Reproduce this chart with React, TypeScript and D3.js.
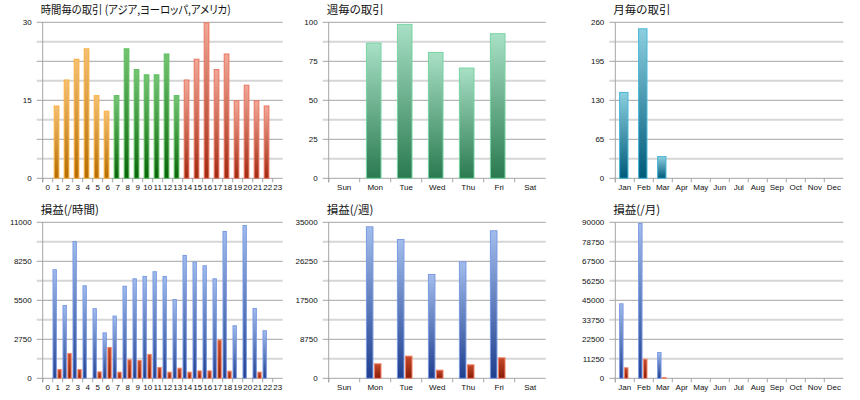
import React from "react";
import * as d3 from "d3";

// categories
const hours = ["0", "1", "2", "3", "4", "5", "6", "7", "8", "9", "10", "11", "12", "13", "14", "15", "16", "17", "18", "19", "20", "21", "22", "23"];
const hourRegion = ["asia", "asia", "asia", "asia", "asia", "asia", "asia", "europe", "europe", "europe", "europe", "europe", "europe", "europe", "america", "america", "america", "america", "america", "america", "america", "america", "america", "america"];
const weekDays = ["Sun", "Mon", "Tue", "Wed", "Thu", "Fri", "Sat"];
const months = ["Jan", "Feb", "Mar", "Apr", "May", "Jun", "Jul", "Aug", "Sep", "Oct", "Nov", "Dec"];

// trade counts
const hourlyTrades = [0, 14, 19, 23, 25, 16, 13, 16, 25, 21, 20, 20, 24, 16, 19, 23, 30, 21, 24, 15, 18, 15, 14, 0];
const weeklyTrades = [0, 87, 99, 81, 71, 93, 0];
const monthlyTrades = [144, 250, 37, 0, 0, 0, 0, 0, 0, 0, 0, 0];

// profit / loss
const hourlyProfit = [0, 7690, 5170, 9680, 6560, 4940, 3240, 4420, 6530, 7050, 7220, 7550, 7220, 5590, 8700, 8230, 7970, 7050, 10390, 3740, 10810, 4960, 3390, 0];
const hourlyLoss = [0, 660, 1790, 650, 0, 490, 2210, 470, 1340, 1290, 1720, 800, 470, 750, 470, 560, 560, 2730, 540, 0, 0, 470, 0, 0];
const weeklyProfit = [0, 34100, 31260, 23410, 26250, 33210, 0];
const weeklyLoss = [0, 3370, 5090, 1940, 3140, 4710, 0];
const monthlyProfit = [43270, 89620, 15190, 0, 0, 0, 0, 0, 0, 0, 0, 0];
const monthlyLoss = [6350, 11350, 770, 0, 0, 0, 0, 0, 0, 0, 0, 0];

// y tick labels
const hourlyTradeTicks = [0, 15, 30];
const weeklyTradeTicks = [0, 25, 50, 75, 100];
const monthlyTradeTicks = [0, 65, 130, 195, 260];
const hourlyProfitTicks = [0, 2750, 5500, 8250, 11000];
const weeklyProfitTicks = [0, 8750, 17500, 26250, 35000];
const monthlyProfitTicks = [0, 11250, 22500, 33750, 45000, 56250, 67500, 78750, 90000];

const palettes: Record<string, { top: string; bottom: string; stroke: string }> = {
  asia: { top: "#f4c074", bottom: "#b46c00", stroke: "#fbb040" },
  europe: { top: "#74c474", bottom: "#0a640a", stroke: "#5cc05c" },
  america: { top: "#f2a898", bottom: "#a02a10", stroke: "#ea7460" },
  week: { top: "#a8e0c6", bottom: "#2a7a50", stroke: "#78d4a4" },
  month: { top: "#8ccfe0", bottom: "#005a7a", stroke: "#46b6d6" },
  profit: { top: "#a2bdec", bottom: "#1f3e8e", stroke: "#7a9ae2" },
  loss: { top: "#c44a2a", bottom: "#881c08", stroke: "#f08468" },
};

const labelFont = "'Liberation Sans', Arial, sans-serif";
const titleFont = "'Noto Sans CJK JP', sans-serif";

interface Series {
  values: number[];
  palette: (i: number) => string;
}

interface PanelProps {
  left: number;
  right: number;
  top: number;
  bottom: number;
  title: string;
  titleWidth?: number;
  categories: string[];
  series: Series[];
  max: number;
  ticks: number[];
  barFrom: number;
  barTo: number;
}

const Panel: React.FC<PanelProps> = ({ left, right, top, bottom, title, titleWidth, categories, series, max, ticks, barFrom, barTo }) => {
  const x = d3.scaleBand<string>().domain(categories).range([left, right]);
  const y = d3.scaleLinear().domain([0, max]).range([bottom, top]);
  const bw = x.bandwidth();
  const grid = d3.range(9).map((i) => (max * i) / 8);
  const slot = (bw * (barTo - barFrom)) / series.length;

  return (
    <g>
      <text
        x={left - 2}
        y={top - 8}
        fontFamily={titleFont}
        fontSize={11.5}
        fill="#111"
        style={{ fontFeatureSettings: "'palt'" }}
        textLength={titleWidth}
        lengthAdjust={titleWidth ? "spacingAndGlyphs" : undefined}
      >
        {title}
      </text>
      {grid.map((v, i) =>
        i === 0 ? null : (
          <line
            key={i}
            x1={left - 6}
            x2={right}
            y1={y(v)}
            y2={y(v)}
            stroke={i % 2 === 0 ? "#a4a4a4" : "#d6d6d6"}
            strokeWidth={i % 2 === 0 ? 1 : 2}
          />
        )
      )}
      <line x1={left - 6} x2={right} y1={bottom} y2={bottom} stroke="#a4a4a4" />
      <line x1={left} x2={left} y1={top} y2={bottom + 4} stroke="#a4a4a4" />
      {categories.map((c) => (
        <line key={c} x1={x(c)!} x2={x(c)!} y1={bottom} y2={bottom + 4} stroke="#a4a4a4" />
      ))}
      {ticks.map((t) => (
        <text key={t} x={left - 11} y={y(t) + 3} textAnchor="end" fontFamily={labelFont} fontSize={8} fill="#111">
          {t}
        </text>
      ))}
      {categories.map((c) => (
        <text key={c} x={x(c)! + bw / 2} y={bottom + 12} textAnchor="middle" fontFamily={labelFont} fontSize={8} fill="#111">
          {c}
        </text>
      ))}
      {series.map((s, k) =>
        s.values.map((v, i) => {
          if (v <= 0) return null;
          const p = s.palette(i);
          const bx = x(categories[i])! + bw * barFrom + slot * k;
          return (
            <rect
              key={`${k}-${i}`}
              x={bx + 0.5}
              y={y(v) + 0.5}
              width={Math.max(slot - 1.5, 1)}
              height={Math.max(bottom - y(v) - 0.5, 1)}
              fill={`url(#grad-${p})`}
              stroke={palettes[p].stroke}
              strokeWidth={1}
            />
          );
        })
      )}
    </g>
  );
};

const App: React.FC = () => {
  const top1 = 22.3;
  const bottom1 = 178.3;
  const top2 = 222.3;
  const bottom2 = 378.3;
  const cols = [
    [42.7, 282.7],
    [328.7, 545.7],
    [615.3, 843.3],
  ];

  return (
    <svg width={860} height={400} style={{ position: "fixed", left: 0, top: 0, background: "#fff" }}>
      <defs>
        {Object.entries(palettes).map(([k, p]) => (
          <linearGradient key={k} id={`grad-${k}`} x1="0" y1="0" x2="0" y2="1">
            <stop offset="0%" stopColor={p.top} />
            <stop offset="100%" stopColor={p.bottom} />
          </linearGradient>
        ))}
      </defs>
      <rect width={860} height={400} fill="#fff" />
      <Panel
        left={cols[0][0]}
        right={cols[0][1]}
        top={top1}
        bottom={bottom1}
        title="時間毎の取引 (アジア,ヨーロッパ,アメリカ)"
        titleWidth={190}
        categories={hours}
        series={[{ values: hourlyTrades, palette: (i) => hourRegion[i] }]}
        max={30}
        ticks={hourlyTradeTicks}
        barFrom={0.1}
        barTo={0.72}
      />
      <Panel
        left={cols[1][0]}
        right={cols[1][1]}
        top={top1}
        bottom={bottom1}
        title="週毎の取引"
        categories={weekDays}
        series={[{ values: weeklyTrades, palette: () => "week" }]}
        max={100}
        ticks={weeklyTradeTicks}
        barFrom={0.2}
        barTo={0.72}
      />
      <Panel
        left={cols[2][0]}
        right={cols[2][1]}
        top={top1}
        bottom={bottom1}
        title="月毎の取引"
        categories={months}
        series={[{ values: monthlyTrades, palette: () => "month" }]}
        max={260}
        ticks={monthlyTradeTicks}
        barFrom={0.2}
        barTo={0.72}
      />
      <Panel
        left={cols[0][0]}
        right={cols[0][1]}
        top={top2}
        bottom={bottom2}
        title="損益(/時間)"
        categories={hours}
        series={[
          { values: hourlyProfit, palette: () => "profit" },
          { values: hourlyLoss, palette: () => "loss" },
        ]}
        max={11000}
        ticks={hourlyProfitTicks}
        barFrom={-0.02}
        barTo={0.95}
      />
      <Panel
        left={cols[1][0]}
        right={cols[1][1]}
        top={top2}
        bottom={bottom2}
        title="損益(/週)"
        categories={weekDays}
        series={[
          { values: weeklyProfit, palette: () => "profit" },
          { values: weeklyLoss, palette: () => "loss" },
        ]}
        max={35000}
        ticks={weeklyProfitTicks}
        barFrom={0.2}
        barTo={0.72}
      />
      <Panel
        left={cols[2][0]}
        right={cols[2][1]}
        top={top2}
        bottom={bottom2}
        title="損益(/月)"
        categories={months}
        series={[
          { values: monthlyProfit, palette: () => "profit" },
          { values: monthlyLoss, palette: () => "loss" },
        ]}
        max={90000}
        ticks={monthlyProfitTicks}
        barFrom={0.2}
        barTo={0.72}
      />
    </svg>
  );
};

export default App;
